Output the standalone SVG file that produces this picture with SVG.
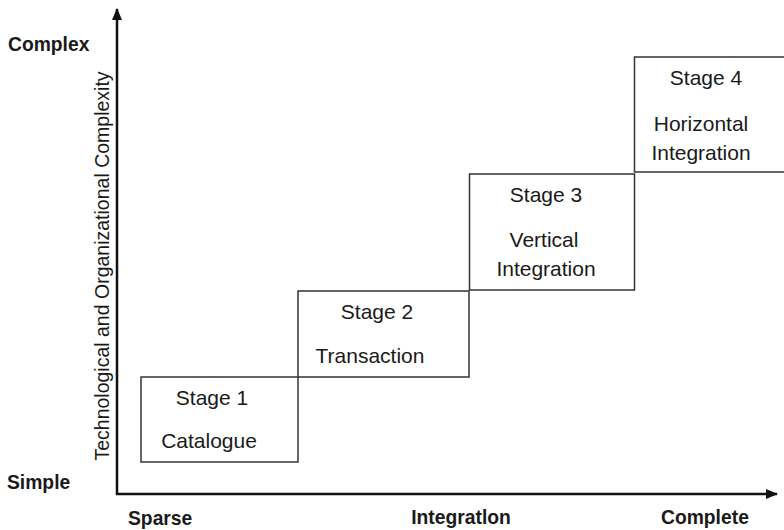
<svg xmlns="http://www.w3.org/2000/svg" width="784" height="530" viewBox="0 0 784 530">
<defs>
<marker id="arr" markerWidth="12" markerHeight="10" refX="11" refY="5" orient="auto" markerUnits="userSpaceOnUse">
<path d="M0,0 L12,5 L0,10 Z" fill="#111"/>
</marker>
<style>
.box{fill:none;stroke:#333;stroke-width:1.5}
.st{font-family:"Liberation Sans",Arial,sans-serif;font-size:21px;fill:#1a1a1a;text-anchor:middle}
.ax{font-family:"Liberation Sans",Arial,sans-serif;font-size:19.3px;font-weight:bold;fill:#1a1a1a}
.axl{stroke:#111;stroke-width:2.5;fill:none}
</style>
</defs>
<rect width="784" height="530" fill="#fff"/>
<g id="connectors">
<line class="axl" x1="117" y1="495" x2="117" y2="9" marker-end="url(#arr)"/>
<line class="axl" x1="116" y1="494" x2="777" y2="494" marker-end="url(#arr)"/>
</g>
<g id="stage1">
<rect class="box" x="141" y="377" width="157" height="85"/>
<text class="st" x="212" y="405">Stage 1</text>
<text class="st" x="209" y="448">Catalogue</text>
</g>
<g id="stage2">
<rect class="box" x="298" y="291" width="171" height="86"/>
<text class="st" x="377" y="319">Stage 2</text>
<text class="st" x="370" y="363">Transaction</text>
</g>
<g id="stage3">
<rect class="box" x="469.5" y="174" width="165" height="116"/>
<text class="st" x="546" y="202">Stage 3</text>
<text class="st" x="544" y="247">Vertical</text>
<text class="st" x="546" y="276">Integration</text>
</g>
<g id="stage4">
<rect class="box" x="634.5" y="57" width="152" height="115"/>
<text class="st" x="706" y="85">Stage 4</text>
<text class="st" x="701" y="131">Horizontal</text>
<text class="st" x="701" y="160">Integration</text>
</g>
<g id="labels">
<text class="ax" x="8" y="51">Complex</text>
<text class="ax" x="7" y="489">Simple</text>
<text class="ax" x="128" y="525">Sparse</text>
<text class="ax" x="461" y="524" text-anchor="middle">Integratlon</text>
<text class="ax" x="661" y="524">Complete</text>
<text font-family="'Liberation Sans',Arial,sans-serif" font-size="19.5" fill="#1a1a1a" text-anchor="middle" transform="translate(109,266) rotate(-90)">Technological and Organizational Complexity</text>
</g>
</svg>
